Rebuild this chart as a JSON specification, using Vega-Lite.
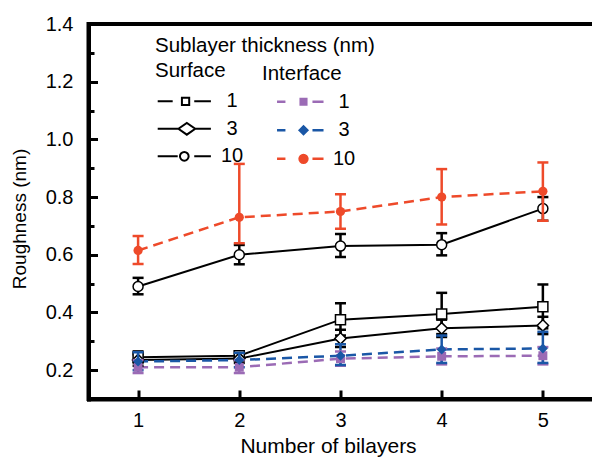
{
  "$schema": "https://vega.github.io/schema/vega-lite/v6.json",
  "width": 507,
  "height": 375,
  "autosize": {"type": "none"},
  "padding": {"left": 88.5, "top": 24, "right": 0, "bottom": 58},
  "background": "white",
  "config": {
    "view": {"stroke": "black", "strokeWidth": 4},
    "font": "Liberation Sans",
    "axis": {"grid": false}
  },
  "data": {
    "values": [
      {"n": 1, "g": "Surface", "t": 1, "y": 0.245, "lo": 0.225, "hi": 0.265},
      {"n": 2, "g": "Surface", "t": 1, "y": 0.25, "lo": 0.235, "hi": 0.265},
      {"n": 3, "g": "Surface", "t": 1, "y": 0.375, "lo": 0.32, "hi": 0.432},
      {"n": 4, "g": "Surface", "t": 1, "y": 0.395, "lo": 0.325, "hi": 0.468},
      {"n": 5, "g": "Surface", "t": 1, "y": 0.42, "lo": 0.345, "hi": 0.497},
      {"n": 1, "g": "Surface", "t": 3, "y": 0.235, "lo": 0.215, "hi": 0.255},
      {"n": 2, "g": "Surface", "t": 3, "y": 0.24, "lo": 0.225, "hi": 0.255},
      {"n": 3, "g": "Surface", "t": 3, "y": 0.31, "lo": 0.28, "hi": 0.34},
      {"n": 4, "g": "Surface", "t": 3, "y": 0.345, "lo": 0.315, "hi": 0.375},
      {"n": 5, "g": "Surface", "t": 3, "y": 0.355, "lo": 0.325, "hi": 0.385},
      {"n": 1, "g": "Surface", "t": 10, "y": 0.49, "lo": 0.463, "hi": 0.52},
      {"n": 2, "g": "Surface", "t": 10, "y": 0.6, "lo": 0.567, "hi": 0.634},
      {"n": 3, "g": "Surface", "t": 10, "y": 0.63, "lo": 0.592, "hi": 0.672},
      {"n": 4, "g": "Surface", "t": 10, "y": 0.635, "lo": 0.598, "hi": 0.675},
      {"n": 5, "g": "Surface", "t": 10, "y": 0.76, "lo": 0.718, "hi": 0.8},
      {"n": 1, "g": "Interface", "t": 1, "ti": 1, "y": 0.21, "lo": 0.19, "hi": 0.235},
      {"n": 2, "g": "Interface", "t": 1, "ti": 1, "y": 0.21, "lo": 0.19, "hi": 0.235},
      {"n": 3, "g": "Interface", "t": 1, "ti": 1, "y": 0.24, "lo": 0.215, "hi": 0.265},
      {"n": 4, "g": "Interface", "t": 1, "ti": 1, "y": 0.248, "lo": 0.22, "hi": 0.275},
      {"n": 5, "g": "Interface", "t": 1, "ti": 1, "y": 0.25, "lo": 0.22, "hi": 0.28},
      {"n": 1, "g": "Interface", "t": 3, "ti": 3, "y": 0.23, "lo": 0.2, "hi": 0.262},
      {"n": 2, "g": "Interface", "t": 3, "ti": 3, "y": 0.235, "lo": 0.21, "hi": 0.26},
      {"n": 3, "g": "Interface", "t": 3, "ti": 3, "y": 0.25, "lo": 0.218, "hi": 0.29},
      {"n": 4, "g": "Interface", "t": 3, "ti": 3, "y": 0.272, "lo": 0.225, "hi": 0.32},
      {"n": 5, "g": "Interface", "t": 3, "ti": 3, "y": 0.275, "lo": 0.225, "hi": 0.333},
      {"n": 1, "g": "Interface", "t": 10, "ti": 10, "y": 0.615, "lo": 0.568, "hi": 0.665},
      {"n": 2, "g": "Interface", "t": 10, "ti": 10, "y": 0.73, "lo": 0.64, "hi": 0.915},
      {"n": 3, "g": "Interface", "t": 10, "ti": 10, "y": 0.75, "lo": 0.69, "hi": 0.81},
      {"n": 4, "g": "Interface", "t": 10, "ti": 10, "y": 0.8, "lo": 0.705, "hi": 0.897},
      {"n": 5, "g": "Interface", "t": 10, "ti": 10, "y": 0.82, "lo": 0.718, "hi": 0.92}
    ]
  },
  "resolve": {
    "axis": {"y": "independent"},
    "scale": {"shape": "independent", "color": "independent", "stroke": "independent", "fill": "independent"}
  },
  "layer": [
    {
      "transform": [{"filter": "datum.g === 'Surface'"}],
      "mark": {"type": "line", "color": "black", "strokeWidth": 2},
      "encoding": {
        "x": {
          "field": "n", "type": "quantitative",
          "scale": {"domain": [0.51, 5.52], "nice": false, "zero": false},
          "axis": {
            "values": [1, 2, 3, 4, 5], "format": "d",
            "tickSize": -9, "tickWidth": 3, "tickColor": "black",
            "domainColor": "black", "domainWidth": 4, "domainCap": "square",
            "labelFontSize": 20, "labelColor": "black", "labelPadding": 20,
            "labelFont": "Liberation Sans",
            "title": "Number of bilayers", "titleFont": "Liberation Sans",
            "titleFontSize": 21, "titleFontWeight": "normal", "titleColor": "black",
            "titleX": 239.5, "titleY": 53.5, "titleBaseline": "alphabetic", "titleAlign": "center",
            "grid": false
          }
        },
        "y": {
          "field": "y", "type": "quantitative",
          "scale": {"domain": [0.1, 1.4], "nice": false, "zero": false},
          "axis": {
            "orient": "left",
            "values": [0.2, 0.4, 0.6, 0.8, 1.0, 1.2, 1.4], "format": ".1f",
            "tickSize": -9, "tickWidth": 3, "tickColor": "black",
            "domainColor": "black", "domainWidth": 4, "domainCap": "square",
            "labelFontSize": 20, "labelColor": "black", "labelPadding": 24.5,
            "labelFont": "Liberation Sans",
            "title": "Roughness (nm)", "titleFont": "Liberation Sans",
            "titleFontSize": 19, "titleFontWeight": "normal", "titleColor": "black",
            "titleX": -63.5, "titleY": 194.5, "titleBaseline": "alphabetic", "titleAlign": "center",
            "grid": false
          }
        },
        "detail": {"field": "t", "type": "nominal"}
      }
    },
    {
      "transform": [{"filter": "datum.g === 'Interface'"}],
      "mark": {"type": "line", "strokeWidth": 2.5, "strokeDash": [10, 6]},
      "encoding": {
        "x": {"field": "n", "type": "quantitative"},
        "y": {
          "field": "y", "type": "quantitative",
          "axis": {
            "orient": "left",
            "values": [0.3, 0.5, 0.7, 0.9, 1.1, 1.3],
            "labels": false, "domain": false,
            "tickSize": -5.5, "tickWidth": 3, "tickColor": "black",
            "title": null, "grid": false
          }
        },
        "color": {
          "field": "ti", "type": "nominal",
          "scale": {"domain": [1, 3, 10], "range": ["#9B6BB5", "#1A57A6", "#EE4A2A"]},
          "legend": null
        }
      }
    },
    {
      "transform": [{"filter": "datum.g === 'Surface'"}],
      "mark": {"type": "rule", "color": "black", "strokeWidth": 2.5},
      "encoding": {
        "x": {"field": "n", "type": "quantitative"},
        "y": {"field": "lo", "type": "quantitative", "axis": null},
        "y2": {"field": "hi"}
      }
    },
    {
      "transform": [{"filter": "datum.g === 'Surface'"}],
      "mark": {"type": "tick", "orient": "horizontal", "color": "black", "size": 11, "thickness": 2.5, "opacity": 1},
      "encoding": {
        "x": {"field": "n", "type": "quantitative"},
        "y": {"field": "lo", "type": "quantitative", "axis": null}
      }
    },
    {
      "transform": [{"filter": "datum.g === 'Surface'"}],
      "mark": {"type": "tick", "orient": "horizontal", "color": "black", "size": 11, "thickness": 2.5, "opacity": 1},
      "encoding": {
        "x": {"field": "n", "type": "quantitative"},
        "y": {"field": "hi", "type": "quantitative", "axis": null}
      }
    },
    {
      "transform": [{"filter": "datum.g === 'Surface' && datum.t === 1"}],
      "mark": {"type": "point", "shape": "square", "filled": true, "fill": "white", "stroke": "black", "strokeWidth": 1.5, "size": 100, "opacity": 1},
      "encoding": {
        "x": {"field": "n", "type": "quantitative"},
        "y": {"field": "y", "type": "quantitative", "axis": null}
      }
    },
    {
      "transform": [{"filter": "datum.g === 'Surface' && datum.t === 3"}],
      "mark": {"type": "point", "shape": "diamond", "filled": true, "fill": "white", "stroke": "black", "strokeWidth": 1.5, "size": 130, "opacity": 1},
      "encoding": {
        "x": {"field": "n", "type": "quantitative"},
        "y": {"field": "y", "type": "quantitative", "axis": null}
      }
    },
    {
      "transform": [{"filter": "datum.g === 'Surface' && datum.t === 10"}],
      "mark": {"type": "point", "shape": "circle", "filled": true, "fill": "white", "stroke": "black", "strokeWidth": 1.5, "size": 100, "opacity": 1},
      "encoding": {
        "x": {"field": "n", "type": "quantitative"},
        "y": {"field": "y", "type": "quantitative", "axis": null}
      }
    },
    {
      "transform": [{"filter": "datum.g === 'Interface'"}],
      "mark": {"type": "rule", "strokeWidth": 2.5},
      "encoding": {
        "x": {"field": "n", "type": "quantitative"},
        "y": {"field": "lo", "type": "quantitative", "axis": null},
        "y2": {"field": "hi"},
        "color": {
          "field": "ti", "type": "nominal",
          "scale": {"domain": [1, 3, 10], "range": ["#9B6BB5", "#1A57A6", "#EE4A2A"]},
          "legend": null
        }
      }
    },
    {
      "transform": [{"filter": "datum.g === 'Interface'"}],
      "mark": {"type": "tick", "orient": "horizontal", "size": 11, "thickness": 2.5, "opacity": 1},
      "encoding": {
        "x": {"field": "n", "type": "quantitative"},
        "y": {"field": "lo", "type": "quantitative", "axis": null},
        "color": {
          "field": "ti", "type": "nominal",
          "scale": {"domain": [1, 3, 10], "range": ["#9B6BB5", "#1A57A6", "#EE4A2A"]},
          "legend": null
        }
      }
    },
    {
      "transform": [{"filter": "datum.g === 'Interface'"}],
      "mark": {"type": "tick", "orient": "horizontal", "size": 11, "thickness": 2.5, "opacity": 1},
      "encoding": {
        "x": {"field": "n", "type": "quantitative"},
        "y": {"field": "hi", "type": "quantitative", "axis": null},
        "color": {
          "field": "ti", "type": "nominal",
          "scale": {"domain": [1, 3, 10], "range": ["#9B6BB5", "#1A57A6", "#EE4A2A"]},
          "legend": null
        }
      }
    },
    {
      "transform": [{"filter": "datum.g === 'Interface' && datum.t === 1"}],
      "mark": {"type": "point", "shape": "square", "filled": true, "size": 80, "opacity": 1},
      "encoding": {
        "x": {"field": "n", "type": "quantitative"},
        "y": {"field": "y", "type": "quantitative", "axis": null},
        "color": {
          "field": "ti", "type": "nominal",
          "scale": {"domain": [1, 3, 10], "range": ["#9B6BB5", "#1A57A6", "#EE4A2A"]},
          "legend": null
        }
      }
    },
    {
      "transform": [{"filter": "datum.g === 'Interface' && datum.t === 3"}],
      "mark": {"type": "point", "shape": "diamond", "filled": true, "size": 100, "opacity": 1},
      "encoding": {
        "x": {"field": "n", "type": "quantitative"},
        "y": {"field": "y", "type": "quantitative", "axis": null},
        "color": {
          "field": "ti", "type": "nominal",
          "scale": {"domain": [1, 3, 10], "range": ["#9B6BB5", "#1A57A6", "#EE4A2A"]},
          "legend": null
        }
      }
    },
    {
      "transform": [{"filter": "datum.g === 'Interface' && datum.t === 10"}],
      "mark": {"type": "point", "shape": "circle", "filled": true, "size": 85, "opacity": 1},
      "encoding": {
        "x": {"field": "n", "type": "quantitative"},
        "y": {"field": "y", "type": "quantitative", "axis": null},
        "color": {
          "field": "ti", "type": "nominal",
          "scale": {"domain": [1, 3, 10], "range": ["#9B6BB5", "#1A57A6", "#EE4A2A"]},
          "legend": null
        }
      }
    },
    {
      "transform": [{"filter": "datum.g === 'Surface'"}],
      "mark": {"type": "point", "filled": true, "fill": "white", "strokeWidth": 2, "opacity": 0},
      "encoding": {
        "x": {"field": "n", "type": "quantitative"},
        "y": {"field": "y", "type": "quantitative", "axis": null},
        "stroke": {
          "field": "t", "type": "nominal",
          "scale": {"domain": [1, 3, 10], "range": ["black", "black", "black"]}
        },
        "shape": {
          "field": "t", "type": "nominal",
          "scale": {
            "domain": [1, 3, 10],
            "range": [
              "M-1.9,0H-0.83M0.71,0H1.9M-0.17,-0.26H0.35V0.26H-0.17Z",
              "M-1.9,0H-0.42M0.78,0H1.9M-0.42,0L0.18,-0.42L0.78,0L0.18,0.42Z",
              "M-1.9,0H-0.47M0.71,0H1.9M-0.31,0A0.31,0.31,0,1,0,0.31,0A0.31,0.31,0,1,0,-0.31,0Z"
            ]
          },
          "legend": {
            "orient": "none", "direction": "vertical",
            "legendX": 66.5, "legendY": 11.8, "padding": 0,
            "title": ["Sublayer thickness (nm)", "Surface"],
            "titleFont": "Liberation Sans", "titleFontSize": 20.5, "titleFontWeight": "normal",
            "titleColor": "black", "titleLineHeight": 25, "titlePadding": 5, "titleLimit": 600,
            "labelFont": "Liberation Sans", "labelFontSize": 20, "labelColor": "black",
            "labelAlign": "center", "labelOffset": 32.7,
            "symbolSize": 784, "symbolOffset": 14.3, "rowPadding": 2.5,
            "symbolOpacity": 1, "symbolFillColor": "white", "symbolStrokeColor": "black",
            "symbolStrokeWidth": 2
          }
        }
      }
    },
    {
      "transform": [{"filter": "datum.g === 'Interface'"}],
      "mark": {"type": "point", "filled": true, "strokeWidth": 2.5, "opacity": 0},
      "encoding": {
        "x": {"field": "n", "type": "quantitative"},
        "y": {"field": "y", "type": "quantitative", "axis": null},
        "fill": {
          "field": "ti", "type": "nominal",
          "scale": {"domain": [1, 3, 10], "range": ["#9B6BB5", "#1A57A6", "#EE4A2A"]}
        },
        "stroke": {
          "field": "ti", "type": "nominal",
          "scale": {"domain": [1, 3, 10], "range": ["#9B6BB5", "#1A57A6", "#EE4A2A"]}
        },
        "shape": {
          "field": "ti", "type": "nominal",
          "scale": {
            "domain": [1, 3, 10],
            "range": [
              "M-1.64,0H-1.04M0.89,0H1.68M0.05,-0.2H0.45V0.2H0.05Z",
              "M-1.64,0H-1.04M0.89,0H1.68M-0.02,0L0.25,-0.27L0.52,0L0.25,0.27Z",
              "M-1.64,0H-1.04M0.89,0H1.68M-0.03,0A0.28,0.28,0,1,0,0.53,0A0.28,0.28,0,1,0,-0.03,0Z"
            ]
          },
          "legend": {
            "orient": "none", "direction": "vertical",
            "legendX": 173.5, "legendY": 39.8, "padding": 0,
            "title": "Interface",
            "titleFont": "Liberation Sans", "titleFontSize": 20.5, "titleFontWeight": "normal",
            "titleColor": "black", "titlePadding": 2, "titleLimit": 600,
            "labelFont": "Liberation Sans", "labelFontSize": 20, "labelColor": "black",
            "labelAlign": "center", "labelOffset": 28.5,
            "symbolSize": 784, "symbolOffset": 22.5, "rowPadding": 2.5,
            "symbolOpacity": 1, "symbolStrokeWidth": 2.5
          }
        }
      }
    }
  ]
}
